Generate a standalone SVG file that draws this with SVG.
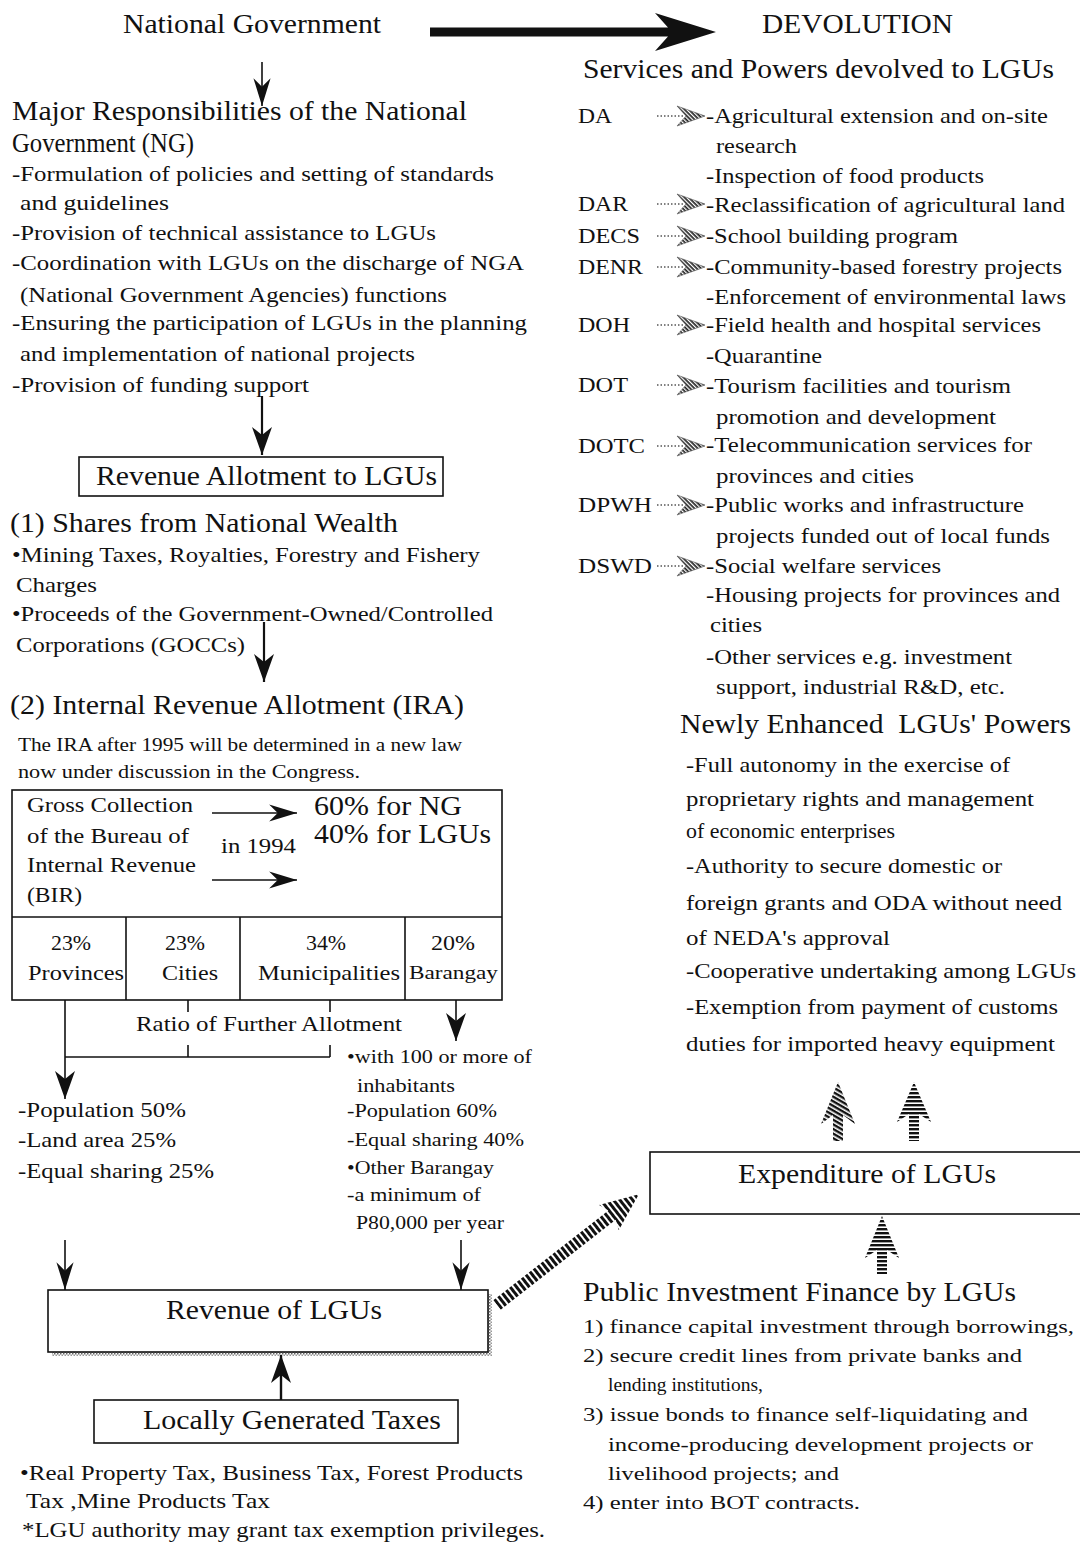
<svg xmlns="http://www.w3.org/2000/svg" width="1080" height="1545" viewBox="0 0 1080 1545">
<defs>
<style>
text{font-family:"Liberation Serif","Times New Roman",serif;fill:#111}
.t{font-size:28px}
.b{font-size:22px}
.s{font-size:19px}
.box{fill:#fff;stroke:#111;stroke-width:1.6}
.ln{stroke:#111;stroke-width:1.6;fill:none}
</style>
<marker id="ah" markerUnits="userSpaceOnUse" markerWidth="30" markerHeight="24" viewBox="-28 -12 30 24" refX="0" refY="0" orient="auto">
<path d="M0,0 L-28,-10 L-20,0 L-28,10 Z" fill="#111"/>
</marker>
<marker id="ahs" markerUnits="userSpaceOnUse" markerWidth="30" markerHeight="24" viewBox="-26 -10 28 20" refX="0" refY="0" orient="auto">
<path d="M0,0 L-26,-8 L-18,0 L-26,8 Z" fill="#111"/>
</marker>
<pattern id="hs" patternUnits="userSpaceOnUse" width="6" height="4"><rect width="6" height="2.4" fill="#111"/></pattern>
<pattern id="sl" patternUnits="userSpaceOnUse" width="4" height="4" patternTransform="rotate(30)"><rect width="4" height="2.4" fill="#111"/></pattern>
<pattern id="vs" patternUnits="userSpaceOnUse" width="5" height="6"><rect width="3" height="6" fill="#111"/></pattern>
<pattern id="hatch" patternUnits="userSpaceOnUse" width="3" height="3" patternTransform="rotate(45)"><rect width="3" height="1.7" fill="#222"/></pattern>
<pattern id="dots" patternUnits="userSpaceOnUse" width="3" height="3"><rect width="1.5" height="1.5" fill="#666"/><rect x="1.5" y="1.5" width="1.5" height="1.5" fill="#999"/></pattern>
<g id="da">
<line x1="-48" y1="0" x2="-22" y2="0" stroke="#555" stroke-width="1.4" stroke-dasharray="1.5 2"/>
<path d="M0,0 L-28,-10 L-19,0 L-28,10 Z" fill="url(#hatch)" stroke="#555" stroke-width="0.6"/>
</g>
</defs>
<rect width="1080" height="1545" fill="#fff"/>

<g id="national-government">
<text class="t" x="123" y="33" textLength="258" lengthAdjust="spacingAndGlyphs">National Government</text>
</g>
<g id="devolution">
<text class="t" x="762" y="33" textLength="191" lengthAdjust="spacingAndGlyphs">DEVOLUTION</text>
</g>

<g id="ng-responsibilities">
<text class="t" x="12" y="120" textLength="455" lengthAdjust="spacingAndGlyphs">Major Responsibilities of the National</text>
<text class="t" x="12" y="152" textLength="182" lengthAdjust="spacingAndGlyphs">Government (NG)</text>
<text class="b" x="12" y="181" textLength="482" lengthAdjust="spacingAndGlyphs">-Formulation of policies and setting of standards</text>
<text class="b" x="20" y="210" textLength="149" lengthAdjust="spacingAndGlyphs">and guidelines</text>
<text class="b" x="12" y="240" textLength="424" lengthAdjust="spacingAndGlyphs">-Provision of technical assistance to LGUs</text>
<text class="b" x="12" y="270" textLength="512" lengthAdjust="spacingAndGlyphs">-Coordination with LGUs on the discharge of NGA</text>
<text class="b" x="20" y="302" textLength="427" lengthAdjust="spacingAndGlyphs">(National Government Agencies) functions</text>
<text class="b" x="12" y="330" textLength="515" lengthAdjust="spacingAndGlyphs">-Ensuring the participation of LGUs in the planning</text>
<text class="b" x="20" y="361" textLength="395" lengthAdjust="spacingAndGlyphs">and implementation of national projects</text>
<text class="b" x="12" y="392" textLength="297" lengthAdjust="spacingAndGlyphs">-Provision of funding support</text>
</g>

<g id="revenue-allotment">
<rect class="box" x="79" y="457" width="364" height="39"/>
<text class="t" x="96" y="485" textLength="341" lengthAdjust="spacingAndGlyphs">Revenue Allotment to LGUs</text>
</g>

<g id="national-wealth">
<text class="t" x="10" y="532" textLength="388" lengthAdjust="spacingAndGlyphs">(1) Shares from National Wealth</text>
<text class="b" x="12" y="562" textLength="468" lengthAdjust="spacingAndGlyphs">•Mining Taxes, Royalties, Forestry and Fishery</text>
<text class="b" x="16" y="592" textLength="81" lengthAdjust="spacingAndGlyphs">Charges</text>
<text class="b" x="12" y="621" textLength="481" lengthAdjust="spacingAndGlyphs">•Proceeds of the Government-Owned/Controlled</text>
<text class="b" x="16" y="652" textLength="229" lengthAdjust="spacingAndGlyphs">Corporations (GOCCs)</text>
</g>

<g id="ira">
<text class="t" x="10" y="714" textLength="454" lengthAdjust="spacingAndGlyphs">(2) Internal Revenue Allotment (IRA)</text>
<text class="s" x="18" y="751" textLength="444" lengthAdjust="spacingAndGlyphs">The IRA after 1995 will be determined in a new law</text>
<text class="s" x="18" y="778" textLength="342" lengthAdjust="spacingAndGlyphs">now under discussion in the Congress.</text>
</g>

<g id="ira-table">
<rect class="box" x="12" y="790" width="490" height="210"/>
<line class="ln" x1="12" y1="917" x2="502" y2="917"/>
<line class="ln" x1="126" y1="917" x2="126" y2="1000"/>
<line class="ln" x1="240" y1="917" x2="240" y2="1000"/>
<line class="ln" x1="405" y1="917" x2="405" y2="1000"/>
<text class="b" x="27" y="812" textLength="166" lengthAdjust="spacingAndGlyphs">Gross Collection</text>
<text class="b" x="27" y="843" textLength="162" lengthAdjust="spacingAndGlyphs">of the Bureau of</text>
<text class="b" x="27" y="872" textLength="169" lengthAdjust="spacingAndGlyphs">Internal Revenue</text>
<text class="b" x="27" y="902" textLength="55" lengthAdjust="spacingAndGlyphs">(BIR)</text>
<text class="b" x="221" y="853" textLength="75" lengthAdjust="spacingAndGlyphs">in 1994</text>
<text class="t" x="314" y="815" textLength="148" lengthAdjust="spacingAndGlyphs">60% for NG</text>
<text class="t" x="314" y="843" textLength="177" lengthAdjust="spacingAndGlyphs">40% for LGUs</text>
<text class="b" x="51" y="950" textLength="40" lengthAdjust="spacingAndGlyphs">23%</text>
<text class="b" x="28" y="980" textLength="96" lengthAdjust="spacingAndGlyphs">Provinces</text>
<text class="b" x="165" y="950" textLength="40" lengthAdjust="spacingAndGlyphs">23%</text>
<text class="b" x="162" y="980" textLength="56" lengthAdjust="spacingAndGlyphs">Cities</text>
<text class="b" x="306" y="950" textLength="40" lengthAdjust="spacingAndGlyphs">34%</text>
<text class="b" x="258" y="980" textLength="142" lengthAdjust="spacingAndGlyphs">Municipalities</text>
<text class="b" x="431" y="950" textLength="44" lengthAdjust="spacingAndGlyphs">20%</text>
<text class="s" x="409" y="979" textLength="89" lengthAdjust="spacingAndGlyphs">Barangay</text>
</g>

<g id="ratio-label">
<text class="b" x="136" y="1031" textLength="266" lengthAdjust="spacingAndGlyphs">Ratio of Further Allotment</text>
</g>

<g id="provinces-cities-ratio">
<text class="b" x="18" y="1117" textLength="168" lengthAdjust="spacingAndGlyphs">-Population 50%</text>
<text class="b" x="18" y="1147" textLength="158" lengthAdjust="spacingAndGlyphs">-Land area 25%</text>
<text class="b" x="18" y="1178" textLength="196" lengthAdjust="spacingAndGlyphs">-Equal sharing 25%</text>
</g>

<g id="barangay-ratio">
<text class="s" x="347" y="1063" textLength="185" lengthAdjust="spacingAndGlyphs">•with 100 or more of</text>
<text class="s" x="357" y="1092" textLength="98" lengthAdjust="spacingAndGlyphs">inhabitants</text>
<text class="s" x="347" y="1117" textLength="150" lengthAdjust="spacingAndGlyphs">-Population 60%</text>
<text class="s" x="347" y="1146" textLength="177" lengthAdjust="spacingAndGlyphs">-Equal sharing 40%</text>
<text class="s" x="347" y="1174" textLength="147" lengthAdjust="spacingAndGlyphs">•Other Barangay</text>
<text class="s" x="347" y="1201" textLength="134" lengthAdjust="spacingAndGlyphs">-a minimum of</text>
<text class="s" x="356" y="1229" textLength="148" lengthAdjust="spacingAndGlyphs">P80,000 per year</text>
</g>

<g id="revenue-of-lgus">
<rect x="52" y="1294" width="440" height="62" fill="url(#dots)"/>
<rect class="box" x="48" y="1290" width="440" height="62"/>
<text class="t" x="166" y="1319" textLength="216" lengthAdjust="spacingAndGlyphs">Revenue of LGUs</text>
</g>

<g id="locally-generated-taxes">
<rect class="box" x="94" y="1400" width="364" height="43"/>
<text class="t" x="143" y="1429" textLength="298" lengthAdjust="spacingAndGlyphs">Locally Generated Taxes</text>
<text class="b" x="20" y="1480" textLength="503" lengthAdjust="spacingAndGlyphs">•Real Property Tax, Business Tax, Forest Products</text>
<text class="b" x="26" y="1508" textLength="244" lengthAdjust="spacingAndGlyphs">Tax ,Mine Products Tax</text>
<text class="b" x="22" y="1537" textLength="523" lengthAdjust="spacingAndGlyphs">*LGU authority may grant tax exemption privileges.</text>
</g>

<g id="services-devolved">
<text class="t" x="583" y="78" textLength="471" lengthAdjust="spacingAndGlyphs">Services and Powers devolved to LGUs</text>
<text class="b" x="578" y="123" textLength="34" lengthAdjust="spacingAndGlyphs">DA</text>
<text class="b" x="578" y="211" textLength="50" lengthAdjust="spacingAndGlyphs">DAR</text>
<text class="b" x="578" y="243" textLength="62" lengthAdjust="spacingAndGlyphs">DECS</text>
<text class="b" x="578" y="274" textLength="65" lengthAdjust="spacingAndGlyphs">DENR</text>
<text class="b" x="578" y="332" textLength="52" lengthAdjust="spacingAndGlyphs">DOH</text>
<text class="b" x="578" y="392" textLength="50" lengthAdjust="spacingAndGlyphs">DOT</text>
<text class="b" x="578" y="453" textLength="67" lengthAdjust="spacingAndGlyphs">DOTC</text>
<text class="b" x="578" y="512" textLength="74" lengthAdjust="spacingAndGlyphs">DPWH</text>
<text class="b" x="578" y="573" textLength="74" lengthAdjust="spacingAndGlyphs">DSWD</text>
<text class="b" x="706" y="123" textLength="342" lengthAdjust="spacingAndGlyphs">-Agricultural extension and on-site</text>
<text class="b" x="716" y="153" textLength="81" lengthAdjust="spacingAndGlyphs">research</text>
<text class="b" x="706" y="183" textLength="278" lengthAdjust="spacingAndGlyphs">-Inspection of food products</text>
<text class="b" x="706" y="212" textLength="359" lengthAdjust="spacingAndGlyphs">-Reclassification of agricultural land</text>
<text class="b" x="706" y="243" textLength="252" lengthAdjust="spacingAndGlyphs">-School building program</text>
<text class="b" x="706" y="274" textLength="356" lengthAdjust="spacingAndGlyphs">-Community-based forestry projects</text>
<text class="b" x="706" y="304" textLength="360" lengthAdjust="spacingAndGlyphs">-Enforcement of environmental laws</text>
<text class="b" x="706" y="332" textLength="335" lengthAdjust="spacingAndGlyphs">-Field health and hospital services</text>
<text class="b" x="706" y="363" textLength="116" lengthAdjust="spacingAndGlyphs">-Quarantine</text>
<text class="b" x="706" y="393" textLength="305" lengthAdjust="spacingAndGlyphs">-Tourism facilities and tourism</text>
<text class="b" x="716" y="424" textLength="280" lengthAdjust="spacingAndGlyphs">promotion and development</text>
<text class="b" x="706" y="452" textLength="326" lengthAdjust="spacingAndGlyphs">-Telecommunication services for</text>
<text class="b" x="716" y="483" textLength="198" lengthAdjust="spacingAndGlyphs">provinces and cities</text>
<text class="b" x="706" y="512" textLength="318" lengthAdjust="spacingAndGlyphs">-Public works and infrastructure</text>
<text class="b" x="716" y="543" textLength="334" lengthAdjust="spacingAndGlyphs">projects funded out of local funds</text>
<text class="b" x="706" y="573" textLength="235" lengthAdjust="spacingAndGlyphs">-Social welfare services</text>
<text class="b" x="706" y="602" textLength="354" lengthAdjust="spacingAndGlyphs">-Housing projects for provinces and</text>
<text class="b" x="710" y="632" textLength="52" lengthAdjust="spacingAndGlyphs">cities</text>
<text class="b" x="706" y="664" textLength="306" lengthAdjust="spacingAndGlyphs">-Other services e.g. investment</text>
<text class="b" x="716" y="694" textLength="289" lengthAdjust="spacingAndGlyphs">support, industrial R&amp;D, etc.</text>
</g>

<g id="enhanced-powers">
<text class="t" x="680" y="733" textLength="391" lengthAdjust="spacingAndGlyphs" xml:space="preserve">Newly Enhanced  LGUs' Powers</text>
<text class="b" x="686" y="772" textLength="324" lengthAdjust="spacingAndGlyphs">-Full autonomy in the exercise of</text>
<text class="b" x="686" y="806" textLength="348" lengthAdjust="spacingAndGlyphs">proprietary rights and management</text>
<text class="b" x="686" y="838" textLength="209" lengthAdjust="spacingAndGlyphs">of economic enterprises</text>
<text class="b" x="686" y="873" textLength="316" lengthAdjust="spacingAndGlyphs">-Authority to secure domestic or</text>
<text class="b" x="686" y="910" textLength="376" lengthAdjust="spacingAndGlyphs">foreign grants and ODA without need</text>
<text class="b" x="686" y="945" textLength="204" lengthAdjust="spacingAndGlyphs">of NEDA's approval</text>
<text class="b" x="686" y="978" textLength="390" lengthAdjust="spacingAndGlyphs">-Cooperative undertaking among LGUs</text>
<text class="b" x="686" y="1014" textLength="372" lengthAdjust="spacingAndGlyphs">-Exemption from payment of customs</text>
<text class="b" x="686" y="1051" textLength="369" lengthAdjust="spacingAndGlyphs">duties for imported heavy equipment</text>
</g>

<g id="expenditure-of-lgus">
<rect class="box" x="650" y="1152" width="440" height="62"/>
<text class="t" x="738" y="1183" textLength="258" lengthAdjust="spacingAndGlyphs">Expenditure of LGUs</text>
</g>

<g id="public-investment-finance">
<text class="t" x="583" y="1301" textLength="433" lengthAdjust="spacingAndGlyphs">Public Investment Finance by LGUs</text>
<text class="s" x="583" y="1333" textLength="491" lengthAdjust="spacingAndGlyphs">1) finance capital investment through borrowings,</text>
<text class="s" x="583" y="1362" textLength="439" lengthAdjust="spacingAndGlyphs">2) secure credit lines from private banks and</text>
<text class="s" x="608" y="1391" textLength="155" lengthAdjust="spacingAndGlyphs">lending institutions,</text>
<text class="s" x="583" y="1421" textLength="445" lengthAdjust="spacingAndGlyphs">3) issue bonds to finance self-liquidating and</text>
<text class="s" x="608" y="1451" textLength="425" lengthAdjust="spacingAndGlyphs">income-producing development projects or</text>
<text class="s" x="608" y="1480" textLength="231" lengthAdjust="spacingAndGlyphs">livelihood projects; and</text>
<text class="s" x="583" y="1509" textLength="277" lengthAdjust="spacingAndGlyphs">4) enter into BOT contracts.</text>
</g>

<g id="connectors">
<path d="M430,27.5 L668,27.5 L655,13 L716,32 L655,51 L668,36.5 L430,36.5 Z" fill="#111"/>
<line class="ln" x1="262" y1="62" x2="262" y2="106" marker-end="url(#ahs)"/>
<line class="ln" x1="262" y1="396" x2="262" y2="455" marker-end="url(#ah)" style="stroke-width:2.2"/>
<line class="ln" x1="264" y1="622" x2="264" y2="682" marker-end="url(#ah)" style="stroke-width:2.2"/>
<line class="ln" x1="212" y1="813" x2="297" y2="813" marker-end="url(#ahs)"/>
<line class="ln" x1="212" y1="880" x2="297" y2="880" marker-end="url(#ahs)"/>
<line class="ln" x1="188" y1="1000" x2="188" y2="1012"/>
<line class="ln" x1="330" y1="1000" x2="330" y2="1012"/>
<line class="ln" x1="188" y1="1045" x2="188" y2="1057"/>
<line class="ln" x1="330" y1="1045" x2="330" y2="1057"/>
<line class="ln" x1="65" y1="1057" x2="330" y2="1057"/>
<line class="ln" x1="65" y1="1000" x2="65" y2="1099" marker-end="url(#ah)"/>
<line class="ln" x1="456" y1="1000" x2="456" y2="1041" marker-end="url(#ah)"/>
<line class="ln" x1="65" y1="1240" x2="65" y2="1290" marker-end="url(#ahs)"/>
<line class="ln" x1="461" y1="1240" x2="461" y2="1290" marker-end="url(#ahs)"/>
<line class="ln" x1="281" y1="1400" x2="281" y2="1355" marker-end="url(#ah)" style="stroke-width:2.4"/>
<use href="#da" x="705" y="116"/>
<use href="#da" x="705" y="204"/>
<use href="#da" x="705" y="236"/>
<use href="#da" x="705" y="267"/>
<use href="#da" x="705" y="325"/>
<use href="#da" x="705" y="385"/>
<use href="#da" x="705" y="446"/>
<use href="#da" x="705" y="505"/>
<use href="#da" x="705" y="566"/>
<path d="M838,1082 L855,1124 L843,1115 L843,1141 L833,1141 L833,1115 L821,1124 Z" fill="url(#sl)"/>
<path d="M914,1082 L931,1122 L919,1114 L919,1141 L909,1141 L909,1114 L897,1122 Z" fill="url(#hs)"/>
<path d="M882,1216 L899,1258 L887,1250 L887,1274 L877,1274 L877,1250 L865,1258 Z" fill="url(#hs)"/>
<g transform="translate(497,1305) rotate(-38)">
<path d="M0,-6 L146,-6 L142,-16 L180,0 L142,16 L146,6 L0,6 Z" fill="url(#vs)"/>
</g>
</g>
</svg>
